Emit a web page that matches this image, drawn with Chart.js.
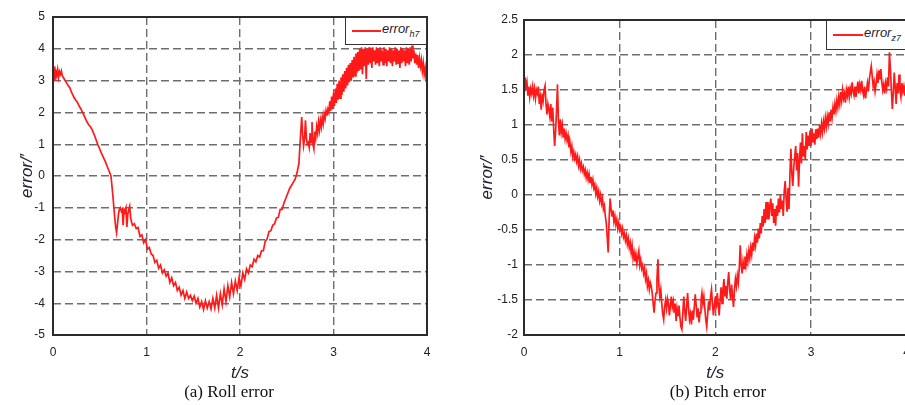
<!DOCTYPE html>
<html>
<head>
<meta charset="utf-8">
<script src="https://cdn.jsdelivr.net/npm/chart.js@4"></script>
<style>
  html,body{margin:0;padding:0;background:#fff;overflow:hidden;width:905px;height:405px;}
  .wrap{position:absolute;top:0;}
  .cap{position:absolute;font-family:"Liberation Serif","Times New Roman",serif;font-size:17px;color:#111;white-space:nowrap;transform:translateX(-50%);}
  .leg{position:absolute;box-sizing:border-box;border:1.5px solid #333;background:#fff;}
  .leg .ln{position:absolute;height:2px;background:#ff2020;}
  .leg .tx{position:absolute;font-family:"Liberation Sans",Arial,sans-serif;font-style:italic;font-size:13px;color:#223;white-space:nowrap;}
  .leg sub{font-size:9px;}
</style>
</head>
<body>
<div class="wrap" style="left:0;width:450px;height:405px;"><canvas id="c1" width="450" height="405"></canvas></div>
<div class="wrap" style="left:460px;width:460px;height:405px;"><canvas id="c2" width="460" height="405"></canvas></div>

<div class="leg" style="left:345px;top:17px;width:82px;height:28px;">
  <div class="ln" style="left:6px;top:12px;width:29px;"></div>
  <div class="tx" style="left:36px;top:3px;">error<sub>h7</sub></div>
</div>
<div class="leg" style="left:826px;top:20px;width:100px;height:30px;">
  <div class="ln" style="left:6px;top:13px;width:30px;"></div>
  <div class="tx" style="left:37px;top:4px;">error<sub>z7</sub></div>
</div>

<div class="cap" style="left:229px;top:382px;">(a) Roll error</div>
<div class="cap" style="left:718px;top:382px;">(b) Pitch error</div>

<script>
// ---------- Roll error data ----------
const rollTime = [
0.00,0.01,0.02,0.03,0.04,0.05,0.06,0.07,0.08,0.09,
0.10,0.12,0.14,0.16,0.18,0.20,0.22,0.24,0.26,0.28,
0.30,0.32,0.34,0.36,0.38,0.40,0.42,0.44,0.46,0.48,
0.50,0.52,0.54,0.56,0.58,0.60,0.62,0.63,0.64,0.65,
0.66,0.67,0.68,0.69,0.70,0.71,0.72,0.73,0.74,0.75,
0.76,0.77,0.78,0.79,0.80,0.81,0.82,0.83,0.84,0.85,
0.87,0.89,0.91,0.93,0.95,0.97,0.99,1.01,1.03,1.05,
1.07,1.09,1.11,1.13,1.15,1.17,1.19,1.21,1.23,1.25,
1.27,1.29,1.31,1.33,1.35,1.37,1.39,1.41,1.43,1.45,
1.47,1.49,1.51,1.53,1.55,1.57,1.59,1.61,1.63,1.65,
1.67,1.69,1.71,1.73,1.75,1.77,1.79,1.81,1.83,1.85,
1.87,1.89,1.91,1.93,1.95,1.97,1.99,2.01,2.03,2.05,
2.07,2.09,2.11,2.13,2.15,2.17,2.19,2.21,2.23,2.25,
2.27,2.29,2.31,2.33,2.35,2.37,2.39,2.41,2.43,2.45,
2.47,2.49,2.51,2.53,2.55,2.57,2.59,2.61,2.63,2.64,
2.65,2.66,2.67,2.68,2.69,2.70,2.71,2.72,2.73,2.74,
2.75,2.76,2.77,2.78,2.79,2.80,2.81,2.82,2.83,2.84,
2.85,2.86,2.87,2.88,2.89,2.90,2.91,2.92,2.93,2.94,
2.95,2.96,2.97,2.98,2.99,3.00,3.01,3.02,3.03,3.04,
3.05,3.06,3.07,3.08,3.09,3.10,3.11,3.12,3.13,3.14,
3.15,3.16,3.17,3.18,3.19,3.20,3.21,3.22,3.23,3.24,
3.25,3.26,3.27,3.28,3.29,3.30,3.31,3.32,3.33,3.34,
3.35,3.36,3.37,3.38,3.39,3.40,3.41,3.42,3.43,3.44,
3.45,3.46,3.47,3.48,3.49,3.50,3.51,3.52,3.53,3.54,
3.55,3.56,3.57,3.58,3.59,3.60,3.61,3.62,3.63,3.64,
3.65,3.66,3.67,3.68,3.69,3.70,3.71,3.72,3.73,3.74,
3.75,3.76,3.77,3.78,3.79,3.80,3.81,3.82,3.83,3.84,
3.85,3.86,3.87,3.88,3.89,3.90,3.91,3.92,3.93,3.94,
3.95,3.96,3.97,3.98,3.99,4.00
];
const rollError = [
3.10,3.45,3.00,3.30,3.15,3.35,3.10,3.28,3.20,3.30,
3.15,3.05,2.95,2.85,2.78,2.62,2.50,2.40,2.32,2.20,
2.10,1.98,1.85,1.72,1.62,1.55,1.45,1.30,1.15,0.98,
0.85,0.70,0.58,0.45,0.30,0.15,0.00,-0.30,-0.60,-0.95,
-1.30,-1.60,-1.78,-1.50,-1.20,-1.05,-1.00,-1.10,-1.05,-1.55,
-1.05,-1.10,-1.00,-1.60,-1.20,-1.05,-0.95,-1.30,-1.45,-1.55,
-1.50,-1.65,-1.62,-1.90,-1.85,-2.10,-2.00,-2.30,-2.25,-2.45,
-2.50,-2.72,-2.65,-2.90,-2.80,-3.05,-2.95,-3.15,-3.05,-3.35,
-3.20,-3.45,-3.35,-3.60,-3.50,-3.75,-3.60,-3.85,-3.65,-3.85,
-3.75,-3.92,-3.78,-4.00,-3.85,-4.12,-3.95,-4.20,-3.92,-4.15,
-3.95,-4.18,-3.85,-4.15,-3.75,-4.15,-3.70,-4.05,-3.55,-3.95,
-3.45,-3.80,-3.35,-3.70,-3.30,-3.60,-3.20,-3.45,-3.05,-3.25,
-2.92,-3.05,-2.80,-2.85,-2.62,-2.70,-2.50,-2.55,-2.35,-2.35,
-2.05,-1.98,-1.75,-1.72,-1.55,-1.50,-1.32,-1.30,-1.05,-1.05,
-0.85,-0.70,-0.55,-0.40,-0.30,-0.20,-0.10,0.10,0.40,0.90,
1.40,1.85,1.30,0.95,1.15,1.75,1.20,1.00,1.05,0.90,
1.35,1.05,1.70,1.00,0.85,1.40,1.20,1.55,1.35,1.70,
1.45,1.75,1.55,1.85,1.65,1.95,1.80,2.05,1.90,2.10,
2.00,2.35,2.05,2.50,2.10,2.60,2.20,2.75,2.30,2.90,
2.40,3.00,2.45,3.10,2.55,3.20,2.65,3.30,2.75,3.40,
2.85,3.50,2.95,3.55,3.00,3.65,3.10,3.75,3.15,3.85,
3.25,3.90,3.30,4.00,3.35,4.05,3.20,4.00,3.45,4.05,
3.05,4.00,3.50,4.05,3.55,4.00,3.40,4.05,3.60,3.95,
3.50,4.05,3.55,4.00,3.45,4.05,3.60,3.95,3.50,4.05,
3.55,4.00,3.45,3.95,3.60,4.05,3.55,4.00,3.45,3.95,
3.60,4.05,3.50,4.00,3.55,3.95,3.40,4.05,3.55,4.00,
3.60,3.95,3.45,4.05,3.55,4.00,3.50,4.05,3.60,4.10,
3.70,3.95,3.55,3.85,3.50,3.80,3.40,3.70,3.45,3.65,
3.30,3.55,3.20,3.40,3.05,3.10
];

// ---------- Pitch error data ----------
const pitchTime = [
0.00,0.01,0.02,0.03,0.04,0.05,0.06,0.07,0.08,0.09,
0.10,0.11,0.12,0.13,0.14,0.15,0.16,0.17,0.18,0.19,
0.20,0.21,0.22,0.23,0.24,0.25,0.26,0.27,0.28,0.29,
0.30,0.31,0.32,0.33,0.34,0.35,0.36,0.37,0.38,0.39,
0.40,0.41,0.42,0.43,0.44,0.45,0.46,0.47,0.48,0.49,
0.50,0.51,0.52,0.53,0.54,0.55,0.56,0.57,0.58,0.59,
0.60,0.61,0.62,0.63,0.64,0.65,0.66,0.67,0.68,0.69,
0.70,0.71,0.72,0.73,0.74,0.75,0.76,0.77,0.78,0.79,
0.80,0.81,0.82,0.83,0.84,0.85,0.86,0.87,0.88,0.89,
0.90,0.91,0.92,0.93,0.94,0.95,0.96,0.97,0.98,0.99,
1.00,1.01,1.02,1.03,1.04,1.05,1.06,1.07,1.08,1.09,
1.10,1.11,1.12,1.13,1.14,1.15,1.16,1.17,1.18,1.19,
1.20,1.21,1.22,1.23,1.24,1.25,1.26,1.27,1.28,1.29,
1.30,1.31,1.32,1.33,1.34,1.35,1.36,1.37,1.38,1.39,
1.40,1.41,1.42,1.43,1.44,1.45,1.46,1.47,1.48,1.49,
1.50,1.51,1.52,1.53,1.54,1.55,1.56,1.57,1.58,1.59,
1.60,1.61,1.62,1.63,1.64,1.65,1.66,1.67,1.68,1.69,
1.70,1.71,1.72,1.73,1.74,1.75,1.76,1.77,1.78,1.79,
1.80,1.81,1.82,1.83,1.84,1.85,1.86,1.87,1.88,1.89,
1.90,1.91,1.92,1.93,1.94,1.95,1.96,1.97,1.98,1.99,
2.00,2.01,2.02,2.03,2.04,2.05,2.06,2.07,2.08,2.09,
2.10,2.11,2.12,2.13,2.14,2.15,2.16,2.17,2.18,2.19,
2.20,2.21,2.22,2.23,2.24,2.25,2.26,2.27,2.28,2.29,
2.30,2.31,2.32,2.33,2.34,2.35,2.36,2.37,2.38,2.39,
2.40,2.41,2.42,2.43,2.44,2.45,2.46,2.47,2.48,2.49,
2.50,2.51,2.52,2.53,2.54,2.55,2.56,2.57,2.58,2.59,
2.60,2.61,2.62,2.63,2.64,2.65,2.66,2.67,2.68,2.69,
2.70,2.71,2.72,2.73,2.74,2.75,2.76,2.77,2.78,2.79,
2.80,2.81,2.82,2.83,2.84,2.85,2.86,2.87,2.88,2.89,
2.90,2.91,2.92,2.93,2.94,2.95,2.96,2.97,2.98,2.99,
3.00,3.01,3.02,3.03,3.04,3.05,3.06,3.07,3.08,3.09,
3.10,3.11,3.12,3.13,3.14,3.15,3.16,3.17,3.18,3.19,
3.20,3.21,3.22,3.23,3.24,3.25,3.26,3.27,3.28,3.29,
3.30,3.31,3.32,3.33,3.34,3.35,3.36,3.37,3.38,3.39,
3.40,3.41,3.42,3.43,3.44,3.45,3.46,3.47,3.48,3.49,
3.50,3.51,3.52,3.53,3.54,3.55,3.56,3.57,3.58,3.59,
3.60,3.61,3.62,3.63,3.64,3.65,3.66,3.67,3.68,3.69,
3.70,3.71,3.72,3.73,3.74,3.75,3.76,3.77,3.78,3.79,
3.80,3.81,3.82,3.83,3.84,3.85,3.86,3.87,3.88,3.89,
3.90,3.91,3.92,3.93,3.94,3.95,3.96,3.97,3.98,3.99,
4.00
];
const pitchError = [
1.50,1.68,1.55,1.62,1.42,1.55,1.40,1.52,1.45,1.55,
1.42,1.52,1.38,1.50,1.45,1.55,1.30,1.40,1.22,1.45,
1.35,1.50,1.56,1.30,1.15,1.30,1.22,1.12,1.30,1.05,
1.25,0.95,0.70,0.90,1.20,1.58,1.05,0.85,1.08,0.90,
1.00,0.82,0.95,0.80,0.88,0.78,0.85,0.68,0.75,0.62,
0.70,0.55,0.62,0.52,0.58,0.48,0.55,0.42,0.50,0.38,
0.45,0.35,0.40,0.30,0.36,0.25,0.32,0.22,0.30,0.18,
0.26,0.15,0.22,0.10,0.15,0.02,0.10,-0.02,0.05,-0.08,
0.00,-0.12,-0.05,-0.20,-0.15,-0.30,-0.40,-0.60,-0.82,-0.35,
-0.05,-0.20,-0.30,-0.22,-0.38,-0.30,-0.42,-0.35,-0.48,-0.40,
-0.50,-0.45,-0.55,-0.48,-0.60,-0.55,-0.65,-0.58,-0.70,-0.62,
-0.75,-0.68,-0.82,-0.72,-0.90,-0.82,-0.95,-0.85,-0.98,-0.88,
-0.80,-1.00,-0.92,-1.05,-1.00,-1.12,-1.05,-1.20,-1.12,-1.30,
-1.22,-1.35,-1.25,-1.30,-1.40,-1.55,-1.68,-1.50,-1.40,-1.20,
-0.92,-1.30,-1.45,-1.35,-1.55,-1.70,-1.78,-1.60,-1.50,-1.62,
-1.48,-1.55,-1.72,-1.58,-1.45,-1.60,-1.52,-1.68,-1.55,-1.80,
-1.62,-1.72,-1.58,-1.75,-1.88,-1.92,-1.70,-1.45,-1.65,-1.80,
-1.60,-1.40,-1.62,-1.78,-1.70,-1.85,-1.65,-1.78,-1.60,-1.42,
-1.58,-1.75,-1.62,-1.82,-1.68,-1.50,-1.40,-1.55,-1.45,-1.62,
-1.78,-1.88,-1.70,-1.52,-1.65,-1.45,-1.35,-1.55,-1.72,-1.58,
-1.45,-1.62,-1.40,-1.55,-1.72,-1.50,-1.32,-1.55,-1.35,-1.20,
-1.45,-1.30,-1.48,-1.25,-1.10,-1.35,-1.50,-1.28,-1.45,-1.60,
-1.35,-1.20,-1.30,-1.15,-1.25,-1.05,-0.72,-1.00,-1.12,-0.95,
-1.05,-0.88,-1.00,-0.85,-0.95,-0.80,-0.90,-0.75,-0.85,-0.68,
-0.80,-0.62,-0.72,-0.55,-0.68,-0.48,-0.62,-0.40,-0.55,-0.30,
-0.45,-0.20,-0.40,-0.10,-0.35,-0.10,-0.35,-0.15,-0.05,-0.30,
-0.12,-0.40,-0.20,-0.44,-0.15,-0.30,-0.05,-0.25,0.00,-0.20,
-0.08,-0.30,0.05,0.20,-0.05,-0.24,0.10,-0.20,0.30,0.66,
0.30,0.13,0.40,0.55,0.70,0.35,0.60,0.12,0.50,0.75,
0.45,0.88,0.55,0.70,0.50,0.90,0.65,0.85,0.70,0.92,
0.70,0.95,0.75,0.88,0.72,0.94,0.80,0.95,0.82,1.00,
0.88,1.02,0.90,1.05,0.95,1.10,0.98,1.12,1.02,1.18,
1.05,1.22,1.10,1.25,1.15,1.30,1.20,1.35,1.25,1.40,
1.30,1.47,1.35,1.50,1.38,1.45,1.32,1.50,1.42,1.55,
1.40,1.52,1.45,1.61,1.48,1.42,1.55,1.40,1.50,1.62,
1.45,1.58,1.50,1.63,1.48,1.42,1.55,1.38,1.50,1.60,
1.48,1.65,1.75,1.84,1.70,1.55,1.62,1.48,1.58,1.72,
1.60,1.78,1.65,1.80,1.62,1.50,1.58,1.45,1.60,1.52,
1.68,1.55,2.04,1.80,1.50,1.23,1.45,1.75,1.55,1.30,
1.60,1.45,1.72,1.50,1.40,1.60,1.48,1.55,1.42,1.58,
1.50
];

const xAxisTitle = 't/s';
const yAxisTitle = 'error/\u2032';
const rollLabel = 'error h7';
const pitchLabel = 'error z7';

const FONT = '"Liberation Sans", Arial, sans-serif';

const framePlugin = {
  id: 'frame',
  afterDatasetsDraw(chart) {
    const {ctx, chartArea: a} = chart;
    ctx.save();
    ctx.strokeStyle = '#2b2b2b';
    ctx.lineWidth = 2;
    ctx.strokeRect(a.left, a.top, a.right - a.left, a.bottom - a.top);
    ctx.restore();
  }
};

function makeChart(id, times, values, label, yMin, yMax, yStep, yWidth, pad, tickPad) {
  const pts = times.map((t, i) => ({x: t, y: values[i]}));
  return new Chart(document.getElementById(id), {
    type: 'line',
    data: { datasets: [{
      label: label, data: pts,
      borderColor: '#ff1a1a', borderWidth: 1.7,
      pointRadius: 0, tension: 0, fill: false
    }]},
    options: {
      responsive: false, animation: false, devicePixelRatio: 1,
      layout: { padding: pad },
      plugins: { legend: {display: false}, tooltip: {enabled: false} },
      scales: {
        x: {
          type: 'linear', min: 0, max: 4,
          ticks: { stepSize: 1, padding: 10, color: '#222', font: {family: FONT, size: 12},
                   callback: v => String(v) },
          grid: { color: '#6e6e6e', lineWidth: 1.4, drawTicks: false },
          border: { display: false, dash: [8, 4] },
          title: { display: true, text: xAxisTitle, color: '#223',
                   font: {family: FONT, size: 17, style: 'italic'}, padding: {top: 0, bottom: 22} },
          afterFit(s) { s.height = 70; }
        },
        y: {
          type: 'linear', min: yMin, max: yMax,
          ticks: { stepSize: yStep, padding: tickPad, color: '#222', font: {family: FONT, size: 12},
                   callback: v => String(Math.round(v * 10) / 10) },
          grid: { color: '#6e6e6e', lineWidth: 1.4, drawTicks: false },
          border: { display: false, dash: [8, 4] },
          title: { display: true, text: yAxisTitle, color: '#223',
                   font: {family: FONT, size: 17, style: 'italic'}, padding: {top: 17, bottom: 0} },
          afterFit(s) { s.width = yWidth; }
        }
      }
    },
    plugins: [framePlugin]
  });
}

makeChart('c1', rollTime, rollError, rollLabel, -5, 5, 1, 53, {left: 0, top: 17, right: 23, bottom: 0}, 8);
makeChart('c2', pitchTime, pitchError, pitchLabel, -2, 2.5, 0.5, 64, {left: 0, top: 20, right: 12, bottom: 0}, 6);
</script>
</body>
</html>
